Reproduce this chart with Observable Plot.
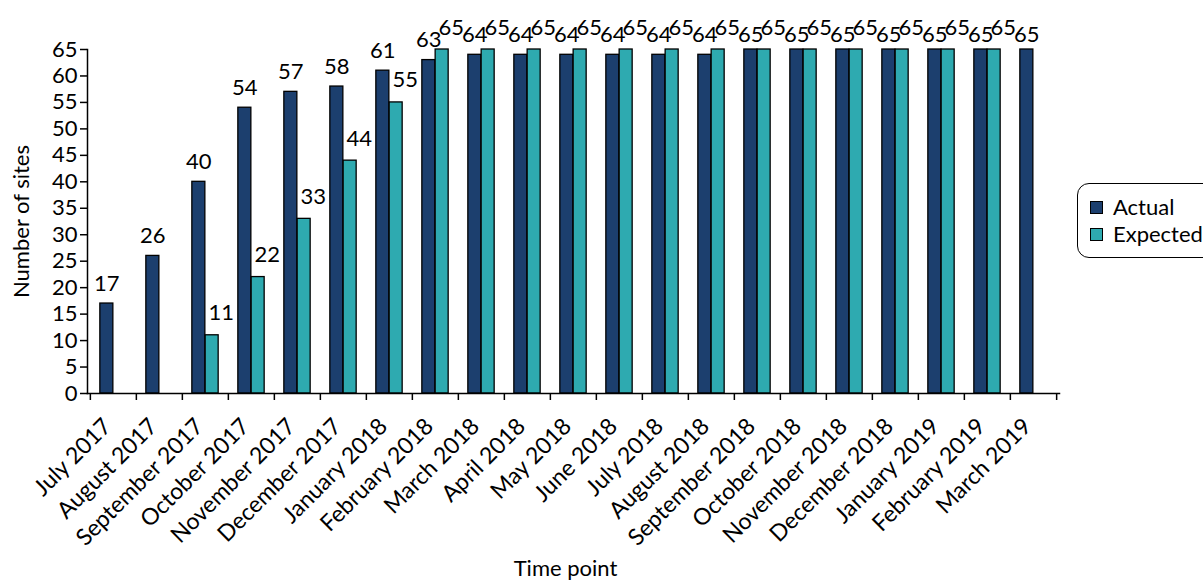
<!DOCTYPE html>
<html><head><meta charset="utf-8">
<script src="https://cdn.jsdelivr.net/npm/d3@7"></script>
<script src="https://cdn.jsdelivr.net/npm/@observablehq/plot@0.6"></script>
<style>
body{margin:0;background:#fff;font-family:Lato,"Open Sans",sans-serif;}
#wrap{position:relative;width:1203px;height:583px;overflow:hidden;}
.legend{position:absolute;left:1077px;top:183px;width:150px;height:75px;border:1.5px solid #000;border-radius:12px;box-sizing:border-box;font-size:22px;color:#000;}
.item{position:absolute;left:12px;height:24px;line-height:24px;white-space:nowrap;}
.sw{display:inline-block;width:11px;height:11px;border:1px solid #000;margin-right:10px;vertical-align:middle;position:relative;top:-2px;}
</style></head>
<body><div id="wrap"></div>
<script>
const months = ["July 2017","August 2017","September 2017","October 2017","November 2017","December 2017","January 2018","February 2018","March 2018","April 2018","May 2018","June 2018","July 2018","August 2018","September 2018","October 2018","November 2018","December 2018","January 2019","February 2019","March 2019"];
const actual = [17,26,40,54,57,58,61,63,64,64,64,64,64,64,65,65,65,65,65,65,65];
const expected = [null,null,11,22,33,44,55,65,65,65,65,65,65,65,65,65,65,65,65,65,null];
const seriesNames = ["Actual","Expected"];
const seriesColors = ["#1c3f6e","#2eaab0"];
const yTicks = [0,5,10,15,20,25,30,35,40,45,50,55,60,65];

const W=1203,H=583,mL=87,mR=144,mT=49,mB=190;
const bw=(W-mL-mR)/months.length;
const barW=13.3;
const actualRows = months.map((m,i)=>({month:m,value:actual[i]})).filter(d=>d.value!=null);
const expectedRows = months.map((m,i)=>({month:m,value:expected[i]})).filter(d=>d.value!=null);

const chart = Plot.plot({
  width:W,height:H,marginLeft:mL,marginRight:mR,marginTop:mT,marginBottom:mB,
  style:{fontFamily:"Lato, sans-serif",fontSize:"22px",color:"#000",background:"#fff",overflow:"visible"},
  x:{domain:months,padding:0,label:null},
  y:{domain:[0,65],label:null},
  marks:[
    Plot.barY(actualRows,{x:"month",y:"value",fill:seriesColors[0],stroke:"#000",strokeWidth:1.3,insetLeft:bw/2-barW,insetRight:bw/2}),
    Plot.barY(expectedRows,{x:"month",y:"value",fill:seriesColors[1],stroke:"#000",strokeWidth:1.3,insetLeft:bw/2,insetRight:bw/2-barW}),
    Plot.text(actualRows,{x:"month",y:d=>Math.min(d.value,64),text:"value",dx:-barW/2,dy:-20,fontSize:22,fill:"#000"}),
    Plot.text(expectedRows,{x:"month",y:"value",text:"value",dx:barW/2+9,dy:-22,fontSize:22,fill:"#000"}),
    Plot.axisY(yTicks,{tickSize:7,tickPadding:3,fontSize:22,label:null,strokeWidth:1.5}),
    Plot.axisX({tickSize:0,tickRotate:-45,tickPadding:29,dx:-6,fontSize:23,label:null}),
    Plot.ruleX(months,{dx:-bw/2,insetTop:H-mT-mB,insetBottom:-7,strokeWidth:1.5,stroke:"#000"}),
    Plot.ruleX([months[months.length-1]],{dx:bw/2,insetTop:H-mT-mB,insetBottom:-7,strokeWidth:1.5,stroke:"#000"}),
    Plot.frame({anchor:"left",strokeWidth:1.5}),
    Plot.frame({anchor:"bottom",strokeWidth:1.5}),
    Plot.text(["Time point"],{frameAnchor:"bottom",lineAnchor:"middle",dy:175,dx:-8,fontSize:22,fill:"#000"}),
    Plot.text(["Number of sites"],{frameAnchor:"left",textAnchor:"middle",rotate:-90,dx:-66,fontSize:22,fill:"#000"})
  ]
});
const wrap=document.getElementById("wrap");
wrap.appendChild(chart);
const lg=document.createElement("div");lg.className="legend";
seriesNames.forEach((s,i)=>{
  const it=document.createElement("div");it.className="item";it.style.top=(11+i*27)+"px";
  const sw=document.createElement("span");sw.className="sw";sw.style.background=seriesColors[i];
  it.appendChild(sw);it.appendChild(document.createTextNode(s));lg.appendChild(it);
});
wrap.appendChild(lg);
</script></body></html>
